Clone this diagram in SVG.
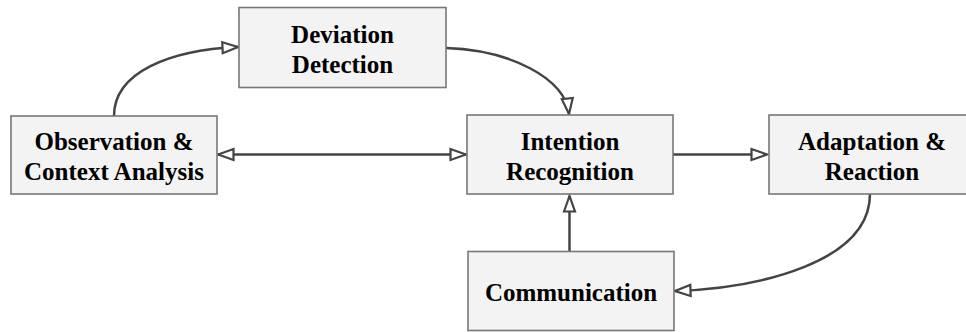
<svg xmlns="http://www.w3.org/2000/svg" width="966" height="332" viewBox="0 0 966 332">
<style>
.box{fill:#f3f3f3;stroke:#777;stroke-width:1.6}
.lbl{font-weight:bold;font-size:25px;fill:#000;text-anchor:middle}
.edge{fill:none;stroke:#444;stroke-width:2.5}
</style>
<defs>
<marker id="ah" markerUnits="userSpaceOnUse" markerWidth="20" markerHeight="16" refX="17" refY="7" orient="auto-start-reverse" viewBox="0 0 20 14">
<path d="M1.5,1.5 L17,7 L1.5,12.5 Z" fill="#fff" stroke="#444" stroke-width="2.2" stroke-linejoin="miter"/>
</marker>
</defs>
<g id="connectors">
<path class="edge" d="M114,116 C114,72 170,50 238,47" marker-end="url(#ah)"/>
<path class="edge" d="M446,48 C510,50 565,78 569,114" marker-end="url(#ah)"/>
<path class="edge" d="M218,154.5 L466,154.5" marker-start="url(#ah)" marker-end="url(#ah)"/>
<path class="edge" d="M673,154.5 L767,154.5" marker-end="url(#ah)"/>
<path class="edge" d="M569.5,251 L569.5,196" marker-end="url(#ah)"/>
<path class="edge" d="M870,194 C870,262 760,288 675,291" marker-end="url(#ah)"/>
</g>
<g font-family="Liberation Serif, DejaVu Serif, serif">
<g id="deviation">
<rect class="box" x="239" y="7.5" width="207" height="80"/>
<text class="lbl" x="342.5" y="42.5">Deviation</text>
<text class="lbl" x="342.5" y="72.5">Detection</text>
</g>
<g id="observation">
<rect class="box" x="11" y="116" width="206" height="78"/>
<text class="lbl" x="114" y="150">Observation &amp;</text>
<text class="lbl" x="114" y="180">Context Analysis</text>
</g>
<g id="intention">
<rect class="box" x="467" y="115" width="206" height="79"/>
<text class="lbl" x="570" y="149.5">Intention</text>
<text class="lbl" x="570" y="179.5">Recognition</text>
</g>
<g id="adaptation">
<rect class="box" x="769" y="115" width="206" height="79"/>
<text class="lbl" x="872" y="149.5">Adaptation &amp;</text>
<text class="lbl" x="872" y="179.5">Reaction</text>
</g>
<g id="communication">
<rect class="box" x="468" y="251.5" width="206" height="79"/>
<text class="lbl" x="571" y="300.5">Communication</text>
</g>
</g>
</svg>
